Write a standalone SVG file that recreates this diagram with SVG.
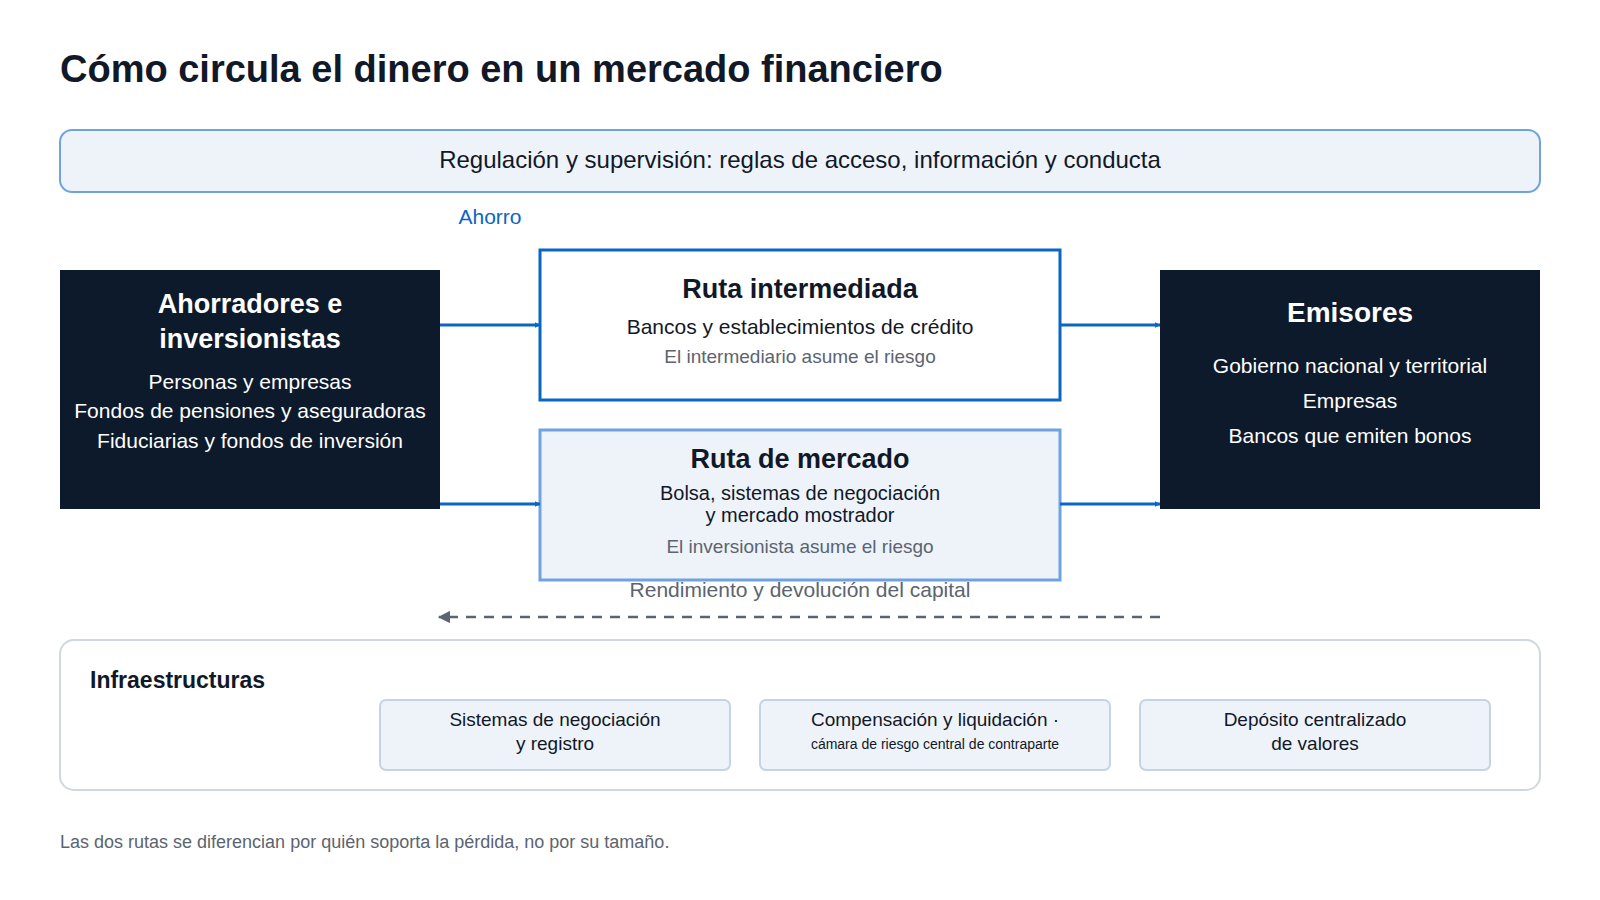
<svg xmlns="http://www.w3.org/2000/svg" width="1600" height="900" viewBox="0 0 1600 900">
<style>
text{font-family:"Liberation Sans",Arial,sans-serif;dominant-baseline:middle}
.c{text-anchor:middle}
.w{fill:#fff}
.d{fill:#111827}
.g{fill:#5b6470}
.b{font-weight:bold}
.dark{fill:#0d1a2b}
.sub{fill:#eef3fa;stroke:#c6d3e3;stroke-width:2}
</style>
<defs>
<marker id="ab" viewBox="0 0 10 10" refX="9" refY="5" markerWidth="6" markerHeight="6" markerUnits="userSpaceOnUse" orient="auto"><path d="M0,0L10,5L0,10z" fill="#0a66c2"/></marker>
<marker id="ag" viewBox="0 0 10 10" refX="9" refY="5" markerWidth="5" markerHeight="5" orient="auto"><path d="M0,0L10,5L0,10z" fill="#5b6470"/></marker>
</defs>
<rect width="1600" height="900" fill="#fff"/>
<text x="60" y="72" class="d b" font-size="38">Cómo circula el dinero en un mercado financiero</text>
<g id="regulacion"><rect x="60" y="130" width="1480" height="62" rx="12" fill="#eef3fa" stroke="#6fa3e0" stroke-width="2"/>
<text x="800" y="162" class="c d" font-size="24">Regulación y supervisión: reglas de acceso, información y conducta</text></g>
<g id="ahorradores"><rect x="60" y="270" width="380" height="239" class="dark"/>
<text x="250" y="306" class="c w b" font-size="27">Ahorradores e</text>
<text x="250" y="341" class="c w b" font-size="27">inversionistas</text>
<text x="250" y="383" class="c w" font-size="21">Personas y empresas</text>
<text x="250" y="412" class="c w" font-size="21">Fondos de pensiones y aseguradoras</text>
<text x="250" y="442" class="c w" font-size="21">Fiduciarias y fondos de inversión</text></g>
<g id="intermediada"><rect x="540" y="250" width="520" height="150" fill="#fff" stroke="#0a66c2" stroke-width="3"/>
<text x="800" y="291" class="c d b" font-size="27">Ruta intermediada</text>
<text x="800" y="328" class="c d" font-size="21">Bancos y establecimientos de crédito</text>
<text x="800" y="358" class="c g" font-size="19">El intermediario asume el riesgo</text></g>
<g id="mercado"><rect x="540" y="430" width="520" height="150" fill="#eef3fa" stroke="#6fa3e0" stroke-width="3"/>
<text x="800" y="461" class="c d b" font-size="27">Ruta de mercado</text>
<text x="800" y="495" class="c d" font-size="20">Bolsa, sistemas de negociación</text>
<text x="800" y="517" class="c d" font-size="20">y mercado mostrador</text>
<text x="800" y="548" class="c g" font-size="19">El inversionista asume el riesgo</text></g>
<g id="emisores"><rect x="1160" y="270" width="380" height="239" class="dark"/>
<text x="1350" y="315" class="c w b" font-size="28">Emisores</text>
<text x="1350" y="367" class="c w" font-size="21">Gobierno nacional y territorial</text>
<text x="1350" y="402" class="c w" font-size="21">Empresas</text>
<text x="1350" y="437" class="c w" font-size="21">Bancos que emiten bonos</text></g>
<g id="conectores" stroke-width="3" fill="none">
<text x="490" y="218" class="c" font-size="21" fill="#0a66c2" stroke="none">Ahorro</text>
<path d="M440,325H540" stroke="#0a66c2" marker-end="url(#ab)"/>
<path d="M440,504H540" stroke="#0a66c2" marker-end="url(#ab)"/>
<path d="M1060,325H1160" stroke="#0a66c2" marker-end="url(#ab)"/>
<path d="M1060,504H1160" stroke="#0a66c2" marker-end="url(#ab)"/>
<path d="M1160,617H439" stroke="#5b6470" stroke-width="2.5" stroke-dasharray="10 8" marker-end="url(#ag)"/>
<text x="800" y="591" class="c g" font-size="21" stroke="none">Rendimiento y devolución del capital</text>
</g>
<g id="infraestructuras"><rect x="60" y="640" width="1480" height="150" rx="14" fill="#fff" stroke="#d0d7e0" stroke-width="2"/>
<text x="90" y="682" class="d b" font-size="23">Infraestructuras</text>
<rect x="380" y="700" width="350" height="70" rx="6" class="sub"/>
<text x="555" y="721" class="c d" font-size="19">Sistemas de negociación</text>
<text x="555" y="745" class="c d" font-size="19">y registro</text>
<rect x="760" y="700" width="350" height="70" rx="6" class="sub"/>
<text x="935" y="721" class="c d" font-size="19">Compensación y liquidación ·</text>
<text x="935" y="745" class="c d" font-size="14">cámara de riesgo central de contraparte</text>
<rect x="1140" y="700" width="350" height="70" rx="6" class="sub"/>
<text x="1315" y="721" class="c d" font-size="19">Depósito centralizado</text>
<text x="1315" y="745" class="c d" font-size="19">de valores</text></g>
<text x="60" y="843" class="g" font-size="18">Las dos rutas se diferencian por quién soporta la pérdida, no por su tamaño.</text>
</svg>
